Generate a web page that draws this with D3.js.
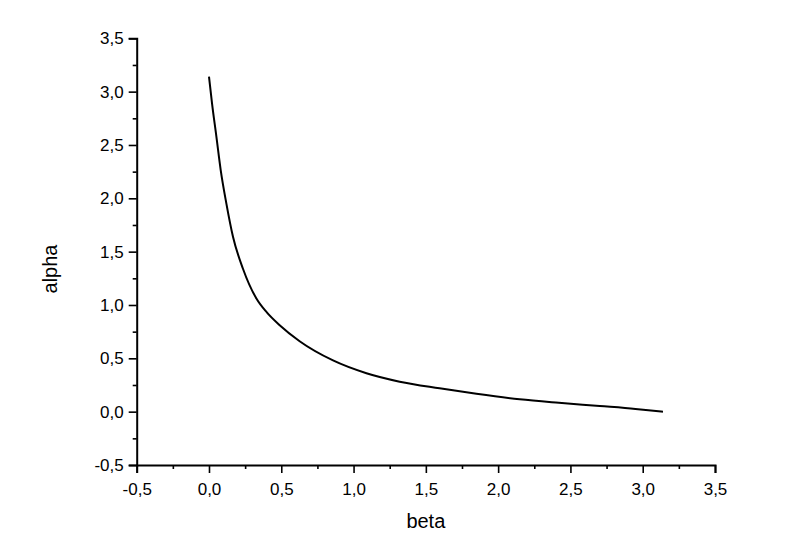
<!DOCTYPE html>
<html>
<head>
<meta charset="utf-8">
<script src="https://cdn.jsdelivr.net/npm/d3@7"></script>
<style>
  body { margin: 0; background: #fff; }
  text { font-family: Arial, "Liberation Sans", sans-serif; fill: #000; }
</style>
</head>
<body>
<svg id="chart" width="800" height="549"></svg>
<script>
// values
var beta  = [0, 0.021, 0.051, 0.081, 0.12, 0.166, 0.235, 0.328, 0.4, 0.489, 0.627, 0.858, 1.089,
             1.319, 1.595, 1.85, 2.149, 2.42, 2.703, 2.95, 3.14];
var alpha = [3.14, 2.89, 2.58, 2.265, 1.953, 1.64, 1.34, 1.06, 0.93, 0.81, 0.66, 0.48, 0.36,
             0.281, 0.219, 0.168, 0.116, 0.083, 0.053, 0.026, 0.0];
var xTicks = [-0.5, 0, 0.5, 1, 1.5, 2, 2.5, 3, 3.5];
var yTicks = [-0.5, 0, 0.5, 1, 1.5, 2, 2.5, 3, 3.5];
var xLabel = "beta";
var yLabel = "alpha";

var pLeft = 136.7, pRight = 715, pTop = 38.3, pBottom = 465;

var svg = d3.select("#chart");
var x = d3.scaleLinear().domain([-0.5, 3.5]).range([pLeft, pRight]);
var y = d3.scaleLinear().domain([-0.5, 3.5]).range([pBottom, pTop]);

var fmt = function(d) { return d3.format(".1f")(d).replace(".", ",").replace("−", "-"); };

// minor ticks halfway between majors
var minor = [];
for (var i = 0; i < xTicks.length - 1; i++) minor.push((xTicks[i] + xTicks[i+1]) / 2);

var xAxis = svg.append("g").attr("transform", "translate(0," + pBottom + ")")
    .call(d3.axisBottom(x).tickValues(xTicks).tickFormat(fmt).tickSize(8).tickPadding(6));
svg.append("g").attr("transform", "translate(0," + pBottom + ")")
    .call(d3.axisBottom(x).tickValues(minor).tickFormat("").tickSize(4))
    .select(".domain").remove();

var yAxis = svg.append("g").attr("transform", "translate(" + pLeft + ",0)")
    .call(d3.axisLeft(y).tickValues(yTicks).tickFormat(fmt).tickSize(8).tickPadding(5));
svg.append("g").attr("transform", "translate(" + pLeft + ",0)")
    .call(d3.axisLeft(y).tickValues(minor).tickFormat("").tickSize(4))
    .select(".domain").remove();

svg.selectAll(".domain").attr("stroke", "#000").attr("stroke-width", 2);
svg.selectAll(".tick line").attr("stroke", "#000").attr("stroke-width", 1.6);
svg.selectAll("g").attr("font-size", 17).attr("font-family", null);
xAxis.selectAll(".tick text").attr("dy", "0.95em");

svg.append("text").attr("x", (pLeft + pRight) / 2).attr("y", 528)
    .attr("text-anchor", "middle").style("font-size", "20px").text(xLabel);
svg.append("text").attr("transform", "translate(56.5,269) rotate(-90)")
    .attr("text-anchor", "middle").style("font-size", "20px").text(yLabel);

var pts = beta.map(function(b, i) { return [b, alpha[i]]; });
svg.append("path").datum(pts)
    .attr("fill", "none").attr("stroke", "#000").attr("stroke-width", 2)
    .attr("d", d3.line().x(function(d) { return x(d[0]); }).y(function(d) { return y(d[1]); })
        .curve(d3.curveMonotoneX));
</script>
</body>
</html>
